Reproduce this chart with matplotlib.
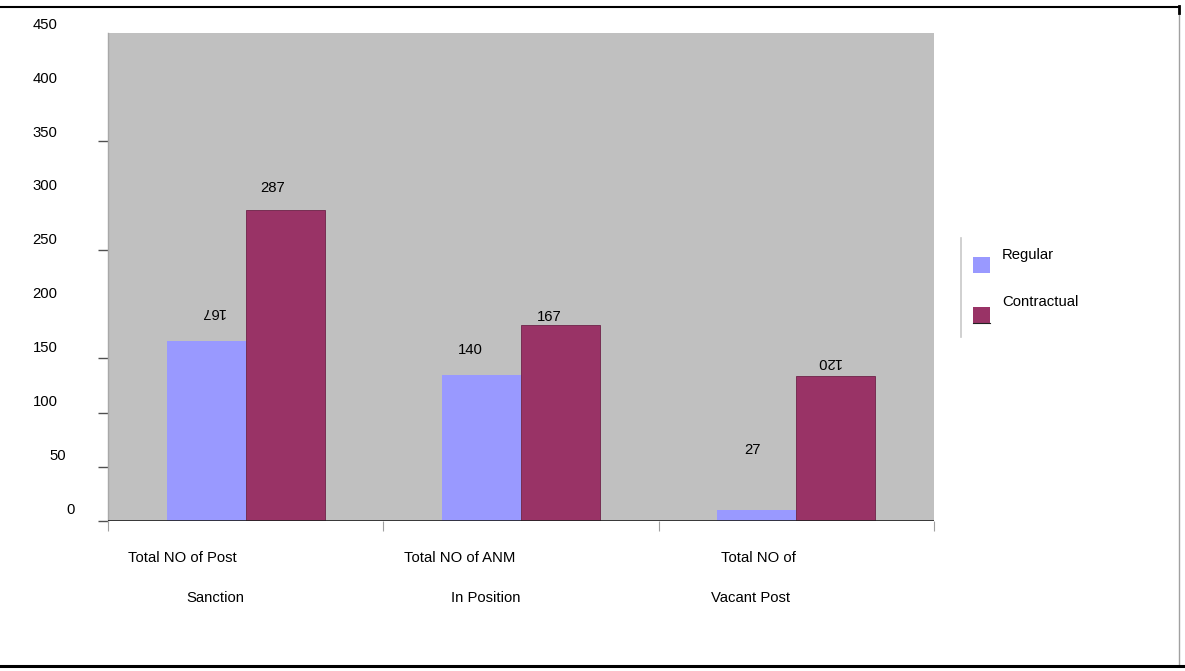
import matplotlib
matplotlib.use("Agg")
import matplotlib.pyplot as plt
from matplotlib.lines import Line2D
from matplotlib.patches import Rectangle

plt.rcParams['font.family'] = ['Liberation Sans', 'DejaVu Sans']
FS = 10.7
plt.rcParams['font.size'] = FS

# ---- data ----
categories_line1 = ["Total NO of Post", "Total NO of ANM", "Total NO of"]
categories_line2 = ["Sanction", "In Position", "Vacant Post"]
series_names = ["Regular", "Contractual"]
regular = [166, 135, 10]          # bar heights as drawn
contractual = [287, 181, 134]
regular_labels = ["167", "140", "27"]      # printed labels
contractual_labels = ["287", "167", "120"]
ytick_values = [0, 50, 100, 150, 200, 250, 300, 350, 400, 450]

# ---- layout / style ----
W, H = 1185, 671
DPI = 100
C_REG = "#9999FF"
C_CON = "#993366"
C_BG = "#C0C0C0"
BAR_W = 0.287

# label anchors (data coords) and rotations for the value labels
reg_lbl_x = [-0.119, 0.815, 1.839]
reg_lbl_y = [192.6, 157.6, 65.4]
reg_lbl_rot = [180, 0, 0]
con_lbl_x = [0.099, 1.102, 2.115]
con_lbl_y = [307.0, 188.0, 146.5]
con_lbl_rot = [0, 0, 180]


def fx(x):
    return x / W


def fy(y):
    return 1 - y / H


fig = plt.figure(figsize=(W / DPI, H / DPI), dpi=DPI)
ax = fig.add_axes([fx(108), fy(521), fx(934) - fx(108), fy(33) - fy(521)])
ax.set_facecolor(C_BG)
ax.set_xlim(-0.5, 2.5)
ax.set_ylim(0, 450)

x = list(range(len(regular)))
ax.bar([i - BAR_W / 2 for i in x], regular, width=BAR_W, color=C_REG,
       edgecolor='none', zorder=2)
ax.bar([i + BAR_W / 2 for i in x], contractual, width=BAR_W, color=C_CON,
       edgecolor='#6e2249', linewidth=0.6, zorder=2)

for i in x:
    ax.text(reg_lbl_x[i], reg_lbl_y[i], regular_labels[i], ha='center',
            va='center', rotation=reg_lbl_rot[i], fontsize=FS, color='black')
    ax.text(con_lbl_x[i], con_lbl_y[i], contractual_labels[i], ha='center',
            va='center', rotation=con_lbl_rot[i], fontsize=FS, color='black')

# zero line
ax.axhline(0, color='#202020', lw=1.2, zorder=3)

# spines
for s in ['top', 'right', 'bottom']:
    ax.spines[s].set_visible(False)
ax.spines['left'].set_color('#A8A8A8')
ax.spines['left'].set_linewidth(1.0)

# y ticks (marks only at some values, as in the reference)
ax.set_yticks([0, 50, 100, 150, 250, 350])
ax.set_yticklabels([])
ax.tick_params(axis='y', direction='out', length=7, width=1, color='#505050')
# x ticks at category boundaries
ax.set_xticks([-0.5, 0.5, 1.5, 2.5])
ax.set_xticklabels([])
ax.tick_params(axis='x', direction='out', length=7, width=0.8, color='#A0A0A0')

# y tick labels placed like the reference (shifted upward, odd alignment)
for v in ytick_values:
    s = str(v)
    cx = 45 + 13 * (3 - len(s))
    ypix = 509.5 - v * 1.0767
    fig.text(fx(cx), fy(ypix), s, ha='center', va='center', fontsize=FS)

# category labels (two lines, positioned separately)
line1_cx = [182, 460, 758]
line2_cx = [215, 486, 751]
for i in x:
    fig.text(fx(line1_cx[i]), fy(557.5), categories_line1[i], ha='center',
             va='center', fontsize=FS)
    fig.text(fx(line2_cx[i]), fy(597.5), categories_line2[i], ha='center',
             va='center', fontsize=FS)

# legend drawn manually
fig.add_artist(Line2D([fx(961), fx(961)], [fy(238), fy(337)], color='#C8C8C8',
                      lw=1.2))
fig.add_artist(Rectangle((fx(973), fy(273)), fx(990) - fx(973),
                         fy(257) - fy(273), facecolor=C_REG, edgecolor='none'))
fig.add_artist(Rectangle((fx(973), fy(323)), fx(990) - fx(973),
                         fy(307) - fy(323), facecolor=C_CON, edgecolor='none'))
fig.add_artist(Line2D([fx(973), fx(990)], [fy(323), fy(323)], color='#222222',
                      lw=0.8))
fig.text(fx(1002), fy(255), series_names[0], ha='left', va='center', fontsize=FS)
fig.text(fx(1002), fy(302), series_names[1], ha='left', va='center', fontsize=FS)

# outer frame lines
fig.add_artist(Line2D([0, fx(1179)], [fy(6.5), fy(6.5)], color='black', lw=1.5))
fig.add_artist(Line2D([fx(1179), fx(1179)], [fy(6), fy(665)], color='#A0A0A0',
                      lw=1.0))
fig.add_artist(Line2D([fx(1178.5), fx(1178.5)], [fy(6), fy(13)], color='black',
                      lw=2.0))
fig.add_artist(Line2D([0, 1], [fy(665.5), fy(665.5)], color='black', lw=2.2))

fig.savefig("out.png", dpi=DPI)
